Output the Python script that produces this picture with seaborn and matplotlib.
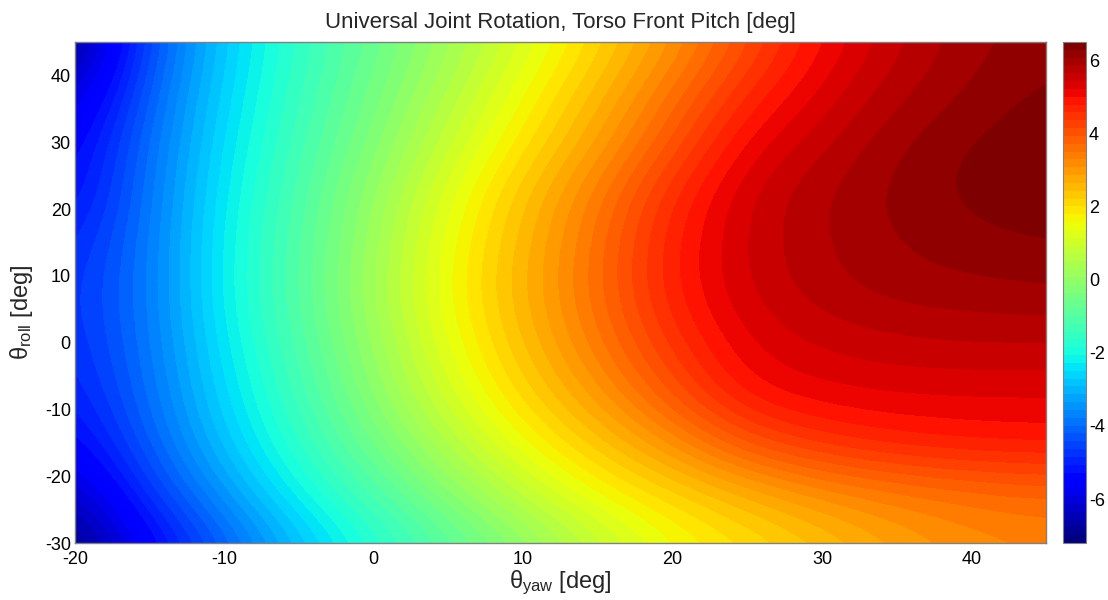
import numpy as np
import matplotlib
matplotlib.use("Agg")
import matplotlib.pyplot as plt
import seaborn as sns

# yaw (x) grid nodes and roll (y) grid nodes, top row first
yaw_deg = [-20, -15, -10, -5, 0, 5, 10, 15, 20, 25, 30, 35, 40, 45]
roll_deg = [45, 37.5, 30, 22.5, 15, 7.5, 0, -7.5, -15, -22.5, -30]

# Torso front pitch [deg], one list per roll row
pitch_r45 = [-7.0, -4.41, -2.72, -1.55, -0.69, 0.22, 1.16, 2.10, 3.05, 4.10, 5.00, 5.60, 6.00, 6.20]
pitch_r37 = [-6.2, -4.15, -2.57, -1.43, -0.48, 0.55, 1.55, 2.52, 3.55, 4.60, 5.28, 5.80, 6.12, 6.35]
pitch_r30 = [-5.6, -3.96, -2.43, -1.28, -0.25, 0.88, 1.90, 2.88, 3.98, 5.10, 5.60, 6.05, 6.32, 6.45]
pitch_r22 = [-5.4, -3.86, -2.28, -1.12, 0.05, 1.30, 2.35, 3.40, 4.55, 5.45, 5.85, 6.15, 6.37, 6.45]
pitch_r15 = [-5.0, -3.80, -2.19, -1.02, 0.22, 1.50, 2.55, 3.60, 4.78, 5.50, 5.85, 6.08, 6.22, 6.30]
pitch_r7 = [-4.8, -3.80, -2.16, -0.97, 0.30, 1.60, 2.62, 3.65, 4.78, 5.45, 5.78, 5.95, 6.00, 6.05]
pitch_r0 = [-4.9, -3.85, -2.31, -1.10, 0.14, 1.42, 2.45, 3.45, 4.48, 5.25, 5.48, 5.60, 5.65, 5.65]
pitch_rm7 = [-5.1, -3.96, -2.51, -1.30, -0.10, 1.12, 2.12, 3.02, 4.02, 4.98, 5.18, 5.25, 5.25, 5.25]
pitch_rm15 = [-5.5, -4.19, -2.80, -1.58, -0.52, 0.55, 1.58, 2.35, 3.15, 4.05, 4.50, 4.73, 4.85, 4.90]
pitch_rm22 = [-6.3, -4.70, -3.40, -2.10, -1.12, -0.15, 0.80, 1.62, 2.15, 2.68, 3.15, 3.42, 3.60, 3.70]
pitch_rm30 = [-7.1, -5.50, -4.20, -2.90, -1.80, -0.95, -0.08, 0.78, 1.53, 1.97, 2.40, 2.85, 3.15, 3.30]

cbar_ticks = [-6, -4, -2, 0, 2, 4, 6]
title = "Universal Joint Rotation, Torso Front Pitch [deg]"

sns.set_style("white")
plt.rcParams["font.family"] = ["Liberation Sans", "DejaVu Sans"]
plt.rcParams["mathtext.fontset"] = "custom"
plt.rcParams["mathtext.rm"] = "Liberation Sans"
plt.rcParams["mathtext.it"] = "Liberation Sans"
plt.rcParams["axes.unicode_minus"] = False

Z = np.array([pitch_r45, pitch_r37, pitch_r30, pitch_r22, pitch_r15, pitch_r7,
              pitch_r0, pitch_rm7, pitch_rm15, pitch_rm22, pitch_rm30])

fig = plt.figure(figsize=(11.08, 6.0), dpi=100)
ax = fig.add_axes([75 / 1108, 1 - 543 / 600, 971 / 1108, 501 / 600])
cax = fig.add_axes([1063 / 1108, 1 - 543 / 600, 23 / 1108, 501 / 600])

dx = yaw_deg[1] - yaw_deg[0]
dy = roll_deg[0] - roll_deg[1]
cmap = plt.get_cmap("jet", 64)
im = ax.imshow(Z, cmap=cmap, vmin=-7.2, vmax=6.5, aspect="auto",
               interpolation="bicubic", interpolation_stage="data",
               extent=[yaw_deg[0] - dx / 2, yaw_deg[-1] + dx / 2,
                       roll_deg[-1] - dy / 2, roll_deg[0] + dy / 2])
ax.set_xlim(-20, 45)
ax.set_ylim(-30, 45)
ax.set_xticks([-20, -10, 0, 10, 20, 30, 40])
ax.set_yticks([-30, -20, -10, 0, 10, 20, 30, 40])
ax.tick_params(axis="both", length=0, labelsize=13, colors="black")
ax.tick_params(axis="x", pad=6)
ax.tick_params(axis="y", pad=3)
for s in ax.spines.values():
    s.set_color("#808080")
    s.set_linewidth(1)

ax.set_title(title, fontsize=16, pad=10)
ax.set_xlabel(r"θ$_{\mathrm{yaw}}$ [deg]", fontsize=17, labelpad=0)
ax.set_ylabel(r"θ$_{\mathrm{roll}}$ [deg]", fontsize=17)
ax.yaxis.set_label_coords(-0.041, 0.46)

cb = fig.colorbar(im, cax=cax, ticks=cbar_ticks)
cb.outline.set_edgecolor("#808080")
cax.tick_params(axis="y", direction="in", length=4, width=0.8, left=True, right=True,
                labelsize=13, pad=2, colors="black")

fig.savefig("out.png", dpi=100)
